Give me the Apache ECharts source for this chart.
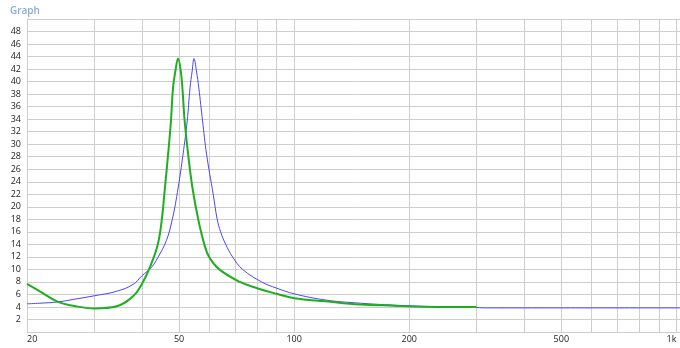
<!DOCTYPE html>
<html>
<head>
<meta charset="utf-8">
<script src="https://cdn.jsdelivr.net/npm/echarts@6/dist/echarts.min.js"></script>
<style>
html,body{margin:0;padding:0;background:#fff;}
#chart{width:680px;height:348px;}
</style>
</head>
<body>
<div id="chart"></div>
<script>
// Green curve (thick), frequency in Hz and value
const greenFreq = [20, 21.6, 24.1, 26.4, 30.1, 34.3, 37.9, 39.9, 41.9, 43.9, 45.0, 45.9, 46.8, 47.6, 48.2, 48.9, 49.7, 50.5, 51.0, 51.7, 52.8, 54.2, 56.1, 58.2, 59.9, 63.7, 72.1, 80, 90, 100, 121, 149, 182, 217, 260, 300];
const greenVal  = [7.7, 6.5, 4.8, 4.2, 3.75, 4.1, 5.7, 7.6, 10.3, 13.8, 17.7, 23.0, 28.4, 33.7, 39.0, 41.7, 43.7, 41.7, 39.0, 33.7, 28.4, 23.0, 18.0, 14.0, 12.0, 10.0, 8.0, 7.0, 6.1, 5.4, 4.9, 4.4, 4.2, 4.05, 4.0, 4.0];
// Blue curve (thin)
const blueFreq = [20, 21.6, 24.1, 26.4, 30.1, 34.3, 37.9, 40, 42.3, 44.0, 46.3, 48.0, 49.7, 51.2, 52.5, 53.4, 54.1, 54.7, 55.5, 56.3, 57.6, 59.0, 61.4, 62.9, 64.2, 66.2, 69.0, 73.3, 82.2, 90, 100, 121, 149, 182, 217, 260, 300, 320, 500, 1022];
const blueVal  = [4.5, 4.6, 4.8, 5.2, 5.8, 6.5, 7.6, 9.0, 10.3, 11.9, 14.6, 18.0, 23.0, 28.4, 33.7, 39.0, 41.7, 43.7, 41.7, 39.0, 33.7, 28.4, 22.0, 18.0, 16.0, 14.0, 12.0, 10.0, 8.0, 7.0, 6.1, 5.1, 4.6, 4.3, 4.1, 4.0, 3.9, 3.85, 3.85, 3.85];
// Axis ticks
const xGridTicks = [20, 30, 40, 50, 60, 70, 80, 90, 100, 200, 300, 400, 500, 600, 700, 800, 900, 1000];
const xLabelTicks = [20, 50, 100, 200, 500, 1000];
const xMin = 20, xMax = 1022;
const yMin = 0, yMax = 50, yStep = 2;

const zip = (xs, ys) => xs.map((x, i) => [x, ys[i]]);
const gridColor = '#cdcdcd';
const labelFont = '"Open Sans", "Noto Sans", sans-serif';

const chart = echarts.init(document.getElementById('chart'), null, {renderer: 'canvas'});
chart.setOption({
  animation: false,
  backgroundColor: '#ffffff',
  title: {
    text: 'Graph',
    left: 5, top: 1,
    textStyle: {color: '#8aa9d0', fontSize: 10, fontWeight: 600, fontFamily: labelFont}
  },
  grid: {left: 27, right: 0, top: 19, bottom: 16, containLabel: false},
  xAxis: {
    type: 'log', logBase: 10, min: xMin, max: xMax,
    axisLine: {show: true, lineStyle: {color: gridColor, width: 1}},
    axisTick: {show: false, customValues: xGridTicks},
    axisLabel: {
      customValues: xLabelTicks,
      color: '#222', fontSize: 9, fontFamily: labelFont, margin: 3,
      alignMinLabel: 'left', alignMaxLabel: 'right',
      formatter: v => (v >= 1000 ? (v / 1000) + 'k' : String(v))
    },
    splitLine: {show: true, lineStyle: {color: gridColor, width: 1}},
    minorSplitLine: {show: false}
  },
  yAxis: {
    type: 'value', min: yMin, max: yMax, interval: yStep,
    axisLine: {show: true, lineStyle: {color: gridColor, width: 1}},
    axisTick: {show: false},
    axisLabel: {
      color: '#222', fontSize: 9, fontFamily: labelFont, margin: 6,
      showMinLabel: false, showMaxLabel: false
    },
    splitLine: {show: true, lineStyle: {color: gridColor, width: 1}}
  },
  series: [
    {
      type: 'line', name: 'blue', data: zip(blueFreq, blueVal),
      showSymbol: false, smooth: 0.4,
      lineStyle: {color: '#4646ff', width: 1}, z: 3
    },
    {
      type: 'line', name: 'green', data: zip(greenFreq, greenVal),
      showSymbol: false, smooth: 0.4,
      lineStyle: {color: '#1fae1f', width: 2}, z: 4
    }
  ]
});
</script>
</body>
</html>
